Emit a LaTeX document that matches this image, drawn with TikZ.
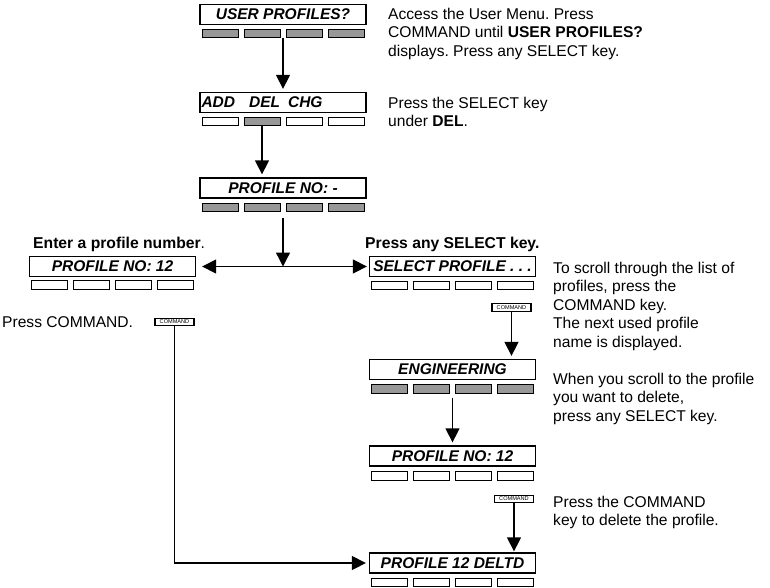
\documentclass[tikz,border=0pt]{standalone}
\usepackage{fontspec}
\setmainfont{Liberation Sans}
\usetikzlibrary{arrows.meta}
\definecolor{keygray}{RGB}{152,152,152}
\tikzset{
  display/.style={draw, line width=1.3pt, minimum width=166pt, minimum height=20pt, inner sep=0pt, font=\fontsize{15.5}{18}\selectfont\bfseries\itshape},
  keyoff/.style={draw, line width=0.9pt, minimum width=36pt, minimum height=8.5pt, inner sep=0pt},
  keyon/.style={keyoff, fill=keygray},
  cmdkey/.style={draw, line width=1.1pt, minimum width=39pt, minimum height=7.5pt, inner sep=0pt, font=\fontsize{5.6}{6}\selectfont},
  flow/.style={line width=1.3pt, -{Triangle[length=14pt,width=14pt]}},
  flowtwo/.style={line width=1.3pt, {Triangle[length=14pt,width=14pt]}-{Triangle[length=14pt,width=14pt]}},
  note/.style={anchor=north west, align=left, inner sep=0pt, font=\fontsize{15.6}{18.5}\selectfont},
  head/.style={anchor=north west, inner sep=0pt, font=\fontsize{15.7}{18}\selectfont\bfseries},
}
\newcommand{\keyrow}[4][keyoff]{%
  \foreach \k/\dx in {1/-63,2/-21,3/21,4/63}
    \node[#1] (#2\k) at ({#3+\dx},#4) {};}
\frenchspacing
\begin{document}
\begin{tikzpicture}[x=1pt, y=-1pt]
  \useasboundingbox (0,0) rectangle (770,587);

  % left column
  \node[display] (A) at (283,14.5) {USER PROFILES?};
  \keyrow[keyon]{A}{283}{33.5}
  \node[display, text width=163pt, align=left, inner xsep=1.5pt] (B) at (283,102.5) {ADD\hspace{14pt}DEL\hspace{8pt}CHG};
  \keyrow{B}{283}{121.5}
  \node[keyon] (Bdel) at (B2) {};
  \node[display] (C) at (283,188) {PROFILE NO: -};
  \keyrow[keyon]{C}{283}{207.5}
  \coordinate (J) at (C |- 0,266.5);

  \node[display] (D) at (112.5,266.5) {PROFILE NO: 12};
  \keyrow{D}{112.5}{285}
  \node[cmdkey] (c1) at (174.5,322) {COMMAND};

  % right column
  \node[display] (E) at (452.5,266.5) {SELECT PROFILE . . .};
  \keyrow{E}{452.5}{285.5}
  \node[cmdkey] (c2) at (511.5,307.5) {COMMAND};
  \node[display] (F) at (452.5,369.5) {ENGINEERING};
  \keyrow[keyon]{F}{452.5}{389}
  \node[display] (G) at (452.5,456) {PROFILE NO: 12};
  \keyrow{G}{452.5}{476}
  \node[cmdkey] (c3) at (514,499) {COMMAND};
  \node[display] (H) at (452.5,563) {PROFILE 12 DELTD};
  \keyrow{H}{452.5}{582.5}

  % texts
  \node[note] (n1) at (388,7.5) {Access the User Menu. Press\\COMMAND until \textbf{USER PROFILES?}\\displays. Press any SELECT key.};
  \node[note] (n2) at (388,96.5) {Press the SELECT key\\under \textbf{DEL}.};
  \node[head] (h1) at (33,236.5) {Enter a profile number\textmd{.}};
  \node[head] (h2) at (365,236.5) {Press any SELECT key.};
  \node[note] (n3) at (553,261.5) {To scroll through the list of\\profiles, press the\\COMMAND key.\\The next used profile\\name is displayed.};
  \node[note] (n4) at (553,372.5) {When you scroll to the profile\\you want to delete,\\press any SELECT key.};
  \node[note] (n5) at (553,495.5) {Press the COMMAND\\key to delete the profile.};
  \node[note] (n6) at (2,316.5) {Press COMMAND.};

  % arrows
  \draw[flow, shorten >=3pt] (A.center |- A2.south) -- (B.north);
  \draw[flow, shorten >=3pt] (B2.south) -- (B2.south |- C.north);
  \draw[flow, shorten <=6pt] (C.center |- C2.south) -- (J);
  \draw[flowtwo, shorten <=6pt, shorten >=2pt] (D.east) -- (E.west);
  \draw[flow, shorten >=3pt] (c2.south) -- (c2.south |- F.north);
  \draw[flow, shorten <=4pt, shorten >=3pt] (F.center |- F2.south) -- (G.north);
  \draw[flow, shorten >=1pt] (c3.south) -- (c3.south |- H.north);
  \draw[flow, shorten >=3pt] (c1.south) |- (H.west);
\end{tikzpicture}
\end{document}
